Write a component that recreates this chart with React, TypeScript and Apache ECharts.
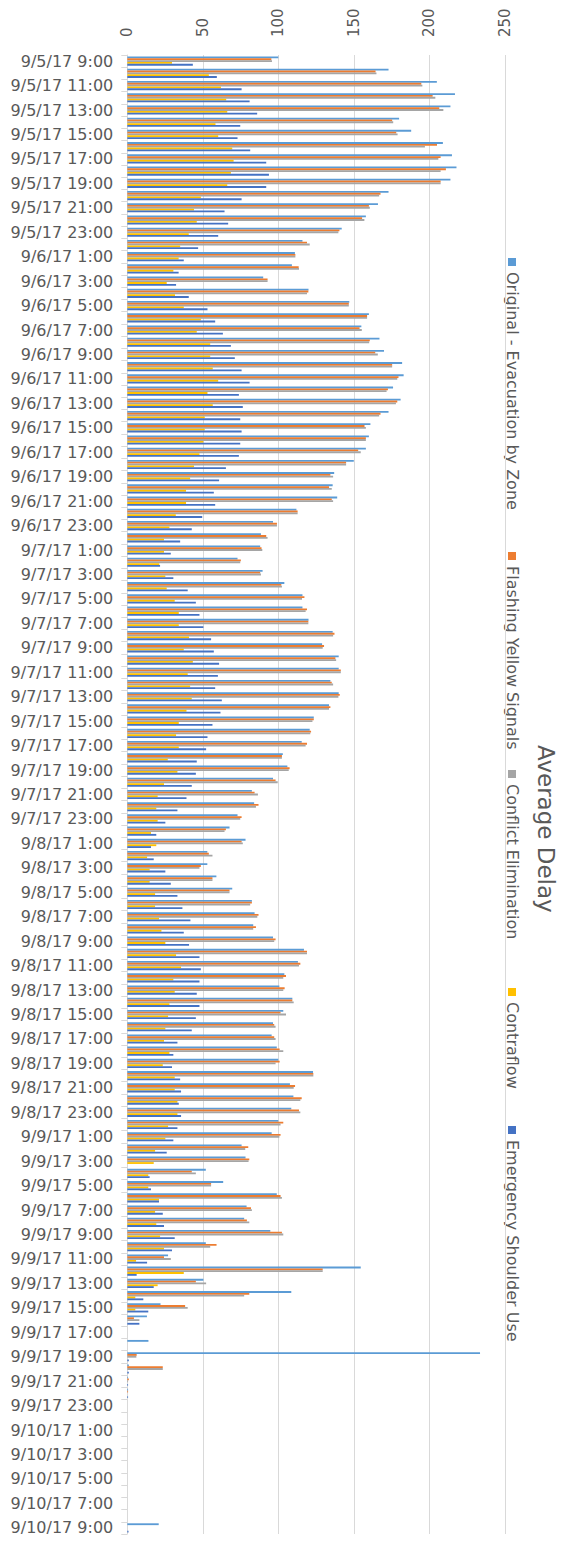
import React, { useEffect, useRef } from "react";
import * as echarts from "echarts";

const categories = [
  "9/5/17 9:00", "9/5/17 10:00", "9/5/17 11:00", "9/5/17 12:00", "9/5/17 13:00", "9/5/17 14:00", "9/5/17 15:00", "9/5/17 16:00",
  "9/5/17 17:00", "9/5/17 18:00", "9/5/17 19:00", "9/5/17 20:00", "9/5/17 21:00", "9/5/17 22:00", "9/5/17 23:00",
  "9/6/17 0:00", "9/6/17 1:00", "9/6/17 2:00", "9/6/17 3:00", "9/6/17 4:00", "9/6/17 5:00", "9/6/17 6:00", "9/6/17 7:00",
  "9/6/17 8:00", "9/6/17 9:00", "9/6/17 10:00", "9/6/17 11:00", "9/6/17 12:00", "9/6/17 13:00", "9/6/17 14:00", "9/6/17 15:00",
  "9/6/17 16:00", "9/6/17 17:00", "9/6/17 18:00", "9/6/17 19:00", "9/6/17 20:00", "9/6/17 21:00", "9/6/17 22:00", "9/6/17 23:00",
  "9/7/17 0:00", "9/7/17 1:00", "9/7/17 2:00", "9/7/17 3:00", "9/7/17 4:00", "9/7/17 5:00", "9/7/17 6:00", "9/7/17 7:00",
  "9/7/17 8:00", "9/7/17 9:00", "9/7/17 10:00", "9/7/17 11:00", "9/7/17 12:00", "9/7/17 13:00", "9/7/17 14:00", "9/7/17 15:00",
  "9/7/17 16:00", "9/7/17 17:00", "9/7/17 18:00", "9/7/17 19:00", "9/7/17 20:00", "9/7/17 21:00", "9/7/17 22:00", "9/7/17 23:00",
  "9/8/17 0:00", "9/8/17 1:00", "9/8/17 2:00", "9/8/17 3:00", "9/8/17 4:00", "9/8/17 5:00", "9/8/17 6:00", "9/8/17 7:00",
  "9/8/17 8:00", "9/8/17 9:00", "9/8/17 10:00", "9/8/17 11:00", "9/8/17 12:00", "9/8/17 13:00", "9/8/17 14:00", "9/8/17 15:00",
  "9/8/17 16:00", "9/8/17 17:00", "9/8/17 18:00", "9/8/17 19:00", "9/8/17 20:00", "9/8/17 21:00", "9/8/17 22:00", "9/8/17 23:00",
  "9/9/17 0:00", "9/9/17 1:00", "9/9/17 2:00", "9/9/17 3:00", "9/9/17 4:00", "9/9/17 5:00", "9/9/17 6:00", "9/9/17 7:00",
  "9/9/17 8:00", "9/9/17 9:00", "9/9/17 10:00", "9/9/17 11:00", "9/9/17 12:00", "9/9/17 13:00", "9/9/17 14:00", "9/9/17 15:00",
  "9/9/17 16:00", "9/9/17 17:00", "9/9/17 18:00", "9/9/17 19:00", "9/9/17 20:00", "9/9/17 21:00", "9/9/17 22:00", "9/9/17 23:00",
  "9/10/17 0:00", "9/10/17 1:00", "9/10/17 2:00", "9/10/17 3:00", "9/10/17 4:00", "9/10/17 5:00", "9/10/17 6:00", "9/10/17 7:00",
  "9/10/17 8:00", "9/10/17 9:00",
];

const seriesNames = [
  "Original - Evacuation by Zone",
  "Flashing Yellow Signals",
  "Conflict Elimination",
  "Contraflow",
  "Emergency Shoulder Use",
];
const seriesColors = ["#5B9BD5", "#ED7D31", "#A5A5A5", "#FFC000", "#4472C4"];

const original = [
  100, 173, 205, 217, 214, 180, 188, 209, 215, 218, 214, 173, 166, 158, 142,
  116, 111, 109, 90, 120, 147, 160, 155, 167, 170, 182, 183, 176, 181, 173, 161, 160, 158, 150, 137, 136, 139, 112, 96.5,
  88.5, 88, 73, 89.6, 104, 116, 116, 120, 136, 129, 140, 140, 134.5, 140, 133.6, 123.5, 120.8, 115.5, 103, 106, 96.5, 82.5, 84, 73,
  67.7, 78.3, 53, 53, 59, 69.5, 82.5, 84.3, 83.4, 96.5, 117, 113, 104, 100.7, 109.3, 103.3, 96.5, 95.6, 99, 100, 123, 107.7, 110, 108.6,
  100, 95.6, 75.7, 78.3, 52, 63.5, 99, 79, 77.4, 94.7, 52, 27, 154.6, 50.4, 108.6, 22, 13, 0, 14, 233.6, 1, 0.5, 0.5, 0,
  0, 0, 0, 0, 0, 0, 0, 0, 0, 20.8,
];

const flashing = [
  95.4, 164.4, 194.7, 202.2, 206.6, 175.4, 178.1, 205.1, 207.5, 211, 207.5, 167.7, 160, 155.5, 140.5,
  119, 111.3, 113.5, 92.9, 119.9, 146.7, 158.8, 153.8, 160.6, 164.2, 175.4, 179.6, 172.6, 178.8, 167.7, 157.1, 158, 152.9, 144.9, 134.5, 133.6, 135.4, 112.8, 99.1,
  92, 88.9, 75.2, 88, 102, 117.3, 119, 119.9, 137.2, 130.3, 137.8, 141.4, 135.4, 140.7, 134.5, 123.5, 121.7, 119, 102.4, 107.5, 98.2, 84.3, 86.9, 75.7,
  65.3, 75.7, 54, 48.7, 56.4, 67.7, 82.5, 86.9, 85.2, 98.2, 119, 114.6, 105.1, 104.2, 109.3, 101.5, 97.3, 97.3, 100.9, 100.9, 123.2, 111.1, 115.5, 113.7,
  103.3, 101.5, 80.1, 80.8, 42.7, 55.5, 101.5, 81.9, 79.2, 102.4, 59.1, 24.3, 129.4, 45.4, 80.8, 38.3, 4.4, 0, 0, 6.2, 23.5, 1, 0.5, 0,
  0, 0, 0, 0, 0, 0, 0, 0, 0, 0,
];

const conflict = [
  95.8, 165, 195.4, 204, 209.3, 176.1, 179, 197.1, 206, 207.5, 207.5, 166.8, 160.6, 157, 139.8,
  120.8, 111.3, 113.7, 92.9, 119, 146.7, 158.8, 155.3, 160.2, 165.9, 175.4, 178.8, 171.7, 177.9, 166.8, 158, 158, 154.6, 144.9, 136.3, 135.4, 136.3, 112.8, 99.1,
  92.9, 89.4, 74.8, 88.5, 102.4, 115.7, 118.1, 119.9, 136.3, 129.4, 138.3, 141.4, 136.3, 139.8, 133.6, 122.6, 121.2, 118.1, 102.4, 106.9, 99.6, 86.5, 85.2, 74.8,
  64.4, 76.5, 56.4, 47.8, 56.4, 67.7, 81.4, 86.1, 83.4, 97.3, 119, 113.7, 103.3, 103.3, 110.2, 105.1, 98.2, 98.2, 103.3, 98.2, 123.2, 110.2, 114.6, 114.6,
  101.5, 100.7, 78.1, 80.3, 45.4, 55.5, 102.4, 82.5, 80.8, 103.3, 54.9, 28.8, 129.4, 52.2, 77.4, 40, 8, 0, 0, 6, 23.5, 0.5, 0, 0,
  0, 0, 0, 0, 0, 0, 0, 0, 0, 0,
];

const contraflow = [
  29.6, 54, 62, 65.5, 66.2, 58.4, 60.2, 69.5, 70.4, 68.6, 66.2, 48.7, 44.2, 46, 40.7,
  35, 34, 30.5, 26.1, 31.6, 37.4, 48.7, 46, 54.9, 54.9, 56.6, 60.2, 53.1, 56.6, 51.3, 51.3, 50.4, 47.8, 44.2, 41.6, 38.9, 38.9, 32.1, 27.9,
  24.3, 24.3, 21.2, 25.2, 26.1, 31.4, 34.1, 34.1, 40.9, 37.4, 43.4, 40, 41.6, 42.7, 39.2, 34.1, 32.3, 34.1, 26.8, 33.2, 24.3, 20.1, 19.2, 20.1,
  15.7, 19.2, 13.1, 14.8, 14.8, 18.4, 18.4, 21, 22.6, 25.2, 32.3, 35.6, 30.5, 31.4, 27.9, 27, 25.2, 24.3, 27.9, 23.5, 31.4, 31.4, 33.2, 33.2,
  27, 25.2, 18.4, 17.5, 13.9, 13.9, 21, 18.4, 19.2, 21.7, 24.3, 5.8, 37.4, 20.1, 5.3, 5.3, 0, 0, 0, 0, 0, 0, 0, 0,
  0, 0, 0, 0, 0, 0, 0, 0, 0, 0,
];

const emergency = [
  43.4, 59.3, 75.7, 81, 86, 74.8, 73, 81.4, 92, 93.8, 92, 75.7, 64.4, 66.8, 60.2,
  46.9, 37.4, 34, 32.3, 40.7, 53.1, 58.2, 63.3, 68.6, 71.2, 75.7, 81, 73.9, 76.5, 74.8, 75.7, 74.8, 73.9, 65.3, 60.8, 57.3, 58.2, 49.6, 42.7,
  35, 28.8, 21.7, 30.5, 40, 45.4, 47.8, 50.4, 55.5, 57.3, 60.8, 60, 58.2, 62.6, 61.7, 56.4, 53.1, 52.2, 46, 45.4, 42.7, 39.2, 33.2, 25.2,
  19.2, 15.7, 17.5, 25.2, 28.8, 33.2, 36.5, 41.8, 37.4, 40.9, 47.8, 48.7, 47.8, 46, 47.8, 45.4, 42.7, 33.2, 30.5, 29.6, 35, 35.6, 34.1, 35.6,
  33.2, 30.5, 26.1, 0, 14.8, 15.7, 21, 23.5, 24.3, 31.4, 29.6, 13.1, 6.2, 17.5, 10.6, 13.9, 8, 0, 0, 1, 1, 0.5, 0.5, 0,
  0, 0, 0, 0, 0, 0, 0, 0, 0, 0.8,
];

const seriesData = [original, flashing, conflict, contraflow, emergency];

const FONT = "DejaVu Sans";
const GRAY_TEXT = "#595959";

// legend layout (rotated, reading top to bottom)
const legendX = 512;
const legendMarkerY = [258, 552, 770, 988, 1126];

export default function App() {
  const ref = useRef<HTMLDivElement>(null);
  useEffect(() => {
    if (!ref.current) return;
    const chart = echarts.init(ref.current, null, { renderer: "svg" });

    const graphic: any[] = [
      {
        type: "text",
        x: 546,
        y: 745,
        rotation: -Math.PI / 2,
        style: {
          text: "Average Delay",
          fontSize: 23,
          fontFamily: FONT,
          fill: GRAY_TEXT,
          textAlign: "left",
          textVerticalAlign: "middle",
          align: "left",
          verticalAlign: "middle",
        },
      },
    ];
    seriesNames.forEach((name, i) => {
      graphic.push({
        type: "rect",
        shape: { x: legendX - 4, y: legendMarkerY[i], width: 8, height: 8 },
        style: { fill: seriesColors[i] },
      });
      graphic.push({
        type: "text",
        x: legendX,
        y: legendMarkerY[i] + 14,
        rotation: -Math.PI / 2,
        style: {
          text: name,
          fontSize: 16,
          fontFamily: FONT,
          fill: GRAY_TEXT,
          textAlign: "left",
          textVerticalAlign: "middle",
          align: "left",
          verticalAlign: "middle",
        },
      });
    });

    chart.setOption({
      animation: false,
      backgroundColor: "#ffffff",
      textStyle: { fontFamily: FONT },
      grid: { left: 127.3, right: 61.2, top: 55, bottom: 8, containLabel: false },
      xAxis: {
        type: "value",
        position: "top",
        min: 0,
        max: 250,
        interval: 50,
        axisLine: { show: false },
        axisTick: { show: false },
        splitLine: { show: true, lineStyle: { color: "#d9d9d9", width: 1 } },
        axisLabel: {
          rotate: -90,
          color: GRAY_TEXT,
          fontSize: 15,
          fontFamily: FONT,
          margin: 18,
        },
      },
      yAxis: {
        type: "category",
        inverse: true,
        data: categories,
        axisLine: { show: true, lineStyle: { color: "#d9d9d9", width: 1 } },
        axisTick: { show: true, interval: 0, length: 6, lineStyle: { color: "#d9d9d9" } },
        axisLabel: {
          interval: 1,
          color: GRAY_TEXT,
          fontSize: 16,
          fontFamily: FONT,
          margin: 14,
        },
      },
      series: seriesNames.map((name, i) => ({
        type: "bar",
        name,
        data: seriesData[i],
        itemStyle: { color: seriesColors[i] },
        barGap: "0%",
        barCategoryGap: "25%",
      })),
      graphic,
    });
    return () => chart.dispose();
  }, []);
  return (
    <div
      ref={ref}
      style={{ position: "absolute", left: 0, top: 0, width: 566, height: 1542, background: "#fff" }}
    />
  );
}
